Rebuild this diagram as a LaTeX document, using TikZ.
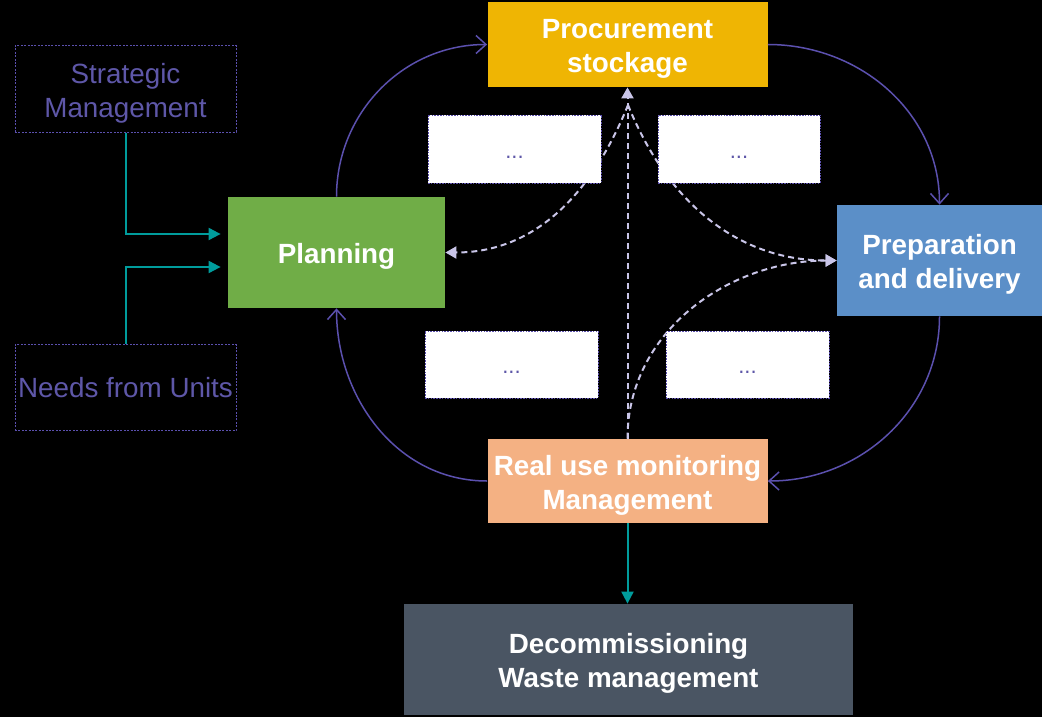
\documentclass[tikz,border=0pt]{standalone}
\usepackage{fontspec}
\setmainfont{Liberation Sans}
\usepackage{tikz}
\usetikzlibrary{arrows.meta,positioning}
\definecolor{violet}{HTML}{5B50AE}
\definecolor{violettext}{HTML}{5E57A8}
\definecolor{lilac}{HTML}{C9C5E8}
\definecolor{tealline}{HTML}{009C9C}
\definecolor{plangreen}{HTML}{70AD47}
\definecolor{procamber}{HTML}{EFB503}
\definecolor{prepblue}{HTML}{5B8FC8}
\definecolor{monpeach}{HTML}{F4B183}
\definecolor{decomslate}{HTML}{4A5563}
\newcommand{\lift}{\rule{0pt}{14pt}}
\tikzset{
  stage/.style={fill=#1,text=white,align=center,inner sep=2pt,font=\fontsize{13.9}{17}\selectfont\bfseries},
  source/.style={draw=violet,line width=0.5pt,dash pattern=on 1pt off 0.7pt,align=center,text=violettext,
    inner xsep=0.5pt,minimum width=110.5pt,minimum height=43pt,font=\fontsize{13.9}{17}\selectfont},
  gapbox/.style={fill=white,draw=violet,line width=0.4pt,dash pattern=on 0.8pt off 0.6pt,text=violettext,
    minimum height=34pt,text height=11pt,text depth=2pt,font=\fontsize{11}{13}\selectfont},
  cycle/.style={-{Straight Barb[length=5pt,width=9pt]},color=violet,line width=0.75pt},
  feed/.style={-{Triangle[length=6pt,width=6pt]},color=tealline,line width=1pt},
  link/.style={-{Triangle[length=5.5pt,width=6pt]},color=lilac,line width=1pt,dash pattern=on 3pt off 2pt}
}
\begin{document}
\begin{tikzpicture}[x=0.5pt,y=-0.5pt]
  \fill[black] (0,0) rectangle (1042,717);
  \node[source] (strat) at (125.5,89) {\lift Strategic\\Management};
  \node[source] (needs) at (125.5,387.5) {Needs from Units};
  \node[stage=plangreen,minimum width=108.5pt,minimum height=55.5pt] (plan) at (336.5,252.5) {\lift Planning};
  \node[stage=procamber,minimum width=140pt,minimum height=42.5pt] (proc) at (627.5,44.5) {\lift Procurement\\stockage};
  \node[stage=prepblue,minimum width=102.5pt,minimum height=55.5pt] (prep) at (939.5,260.5) {\lift Preparation\\and delivery};
  \node[stage=monpeach,minimum width=140pt,minimum height=42pt] (mon) at (627.5,481) {\lift Real use monitoring\\Management};
  \node[stage=decomslate,minimum width=224.5pt,minimum height=55.5pt] (decom) at (628.5,659.5) {\lift Decommissioning\\Waste management};
  \coordinate (hub) at (628,105);
  % feedback (behind the boxes)
  \draw[link] (mon.north) -- (proc.south);
  \draw[link] (hub) to[out=-112,in=0] (plan.east);
  \draw[link] (hub) to[out=-68,in=180] (prep.west);
  \draw[link] (mon.north) to[out=90,in=180] (prep.west);
  \node[gapbox,minimum width=86.5pt] (gap1) at (514.5,149) {...};
  \node[gapbox,minimum width=81pt] (gap2) at (739,149) {...};
  \node[gapbox,minimum width=86.5pt,minimum height=33.5pt] (gap3) at (511.5,364.5) {...};
  \node[gapbox,minimum width=81.5pt,minimum height=33.5pt] (gap4) at (747.5,364.5) {...};
  % inputs to planning
  \draw[feed,shorten >=3.5pt] (strat.south) |- ([yshift=9.25pt]plan.west);
  \draw[feed,shorten >=3.5pt] (needs.north) |- ([yshift=-7.25pt]plan.west);
  % main cycle
  \draw[cycle] (plan.north) to[out=90,in=180] (proc.west);
  \draw[cycle] (proc.east) to[out=0,in=90] (prep.north);
  \draw[cycle] (prep.south) to[out=-90,in=0] (mon.east);
  \draw[cycle] (mon.west) to[out=180,in=-90] (plan.south);
  \draw[feed] (mon.south) -- (mon.south |- decom.north);
\end{tikzpicture}
\end{document}
